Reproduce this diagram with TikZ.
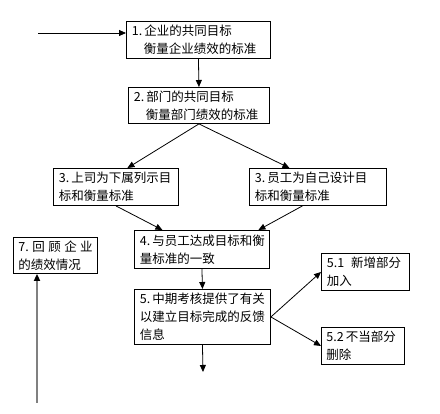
\documentclass[tikz,border=0pt]{standalone}
\usepackage{fontspec}
\setmainfont{Noto Sans CJK SC}
\usetikzlibrary{arrows.meta,calc}
\begin{document}
\begin{tikzpicture}[x=1pt,y=-1pt,
  box/.style={draw,line width=0.9pt,anchor=north west,align=left,inner xsep=5.5pt,inner ysep=0pt,
    font=\fontsize{12.5}{18}\selectfont},
  arr/.style={line width=0.8pt,-{Triangle[length=7pt,width=6pt]}},
  grayarr/.style={line width=2pt,draw=gray,-{Triangle[length=7pt,width=6pt,fill=black,color=black]}}]
\useasboundingbox[fill=white] (0,0) rectangle (440,414);
\node[box,minimum width=144pt,minimum height=37pt,text width=133pt] (b1) at (126,21)
  {\mbox{1.\,企业的共同目标}\\\mbox{\hspace{12pt}衡量企业绩效的标准}};
\node[box,minimum width=141pt,minimum height=36pt,text width=130pt] (b2) at (128,87)
  {\mbox{2.\,部门的共同目标}\\\mbox{\hspace{12pt}衡量部门绩效的标准}};
\node[box,minimum width=125pt,minimum height=37pt,text width=114pt] (b3l) at (53,168)
  {\mbox{3.\,上司为下属列示目}\\\mbox{标和衡量标准}};
\node[box,minimum width=137pt,minimum height=37pt,text width=126pt] (b3r) at (249,168)
  {\mbox{3.\,员工为自己设计目}\\\mbox{标和衡量标准}};
\node[box,minimum width=135pt,minimum height=38pt,text width=124pt,inner xsep=5pt] (b4) at (134,230)
  {\mbox{4.\,与员工达成目标和衡}\\\mbox{量标准的一致}};
\node[box,minimum width=84pt,minimum height=36pt,text width=74pt,inner xsep=5pt] (b7) at (13,237)
  {\mbox{7.\;回\;顾\;企\;业}\\\mbox{的绩效情况}};
\node[box,minimum width=88pt,minimum height=37pt,text width=77pt] (b51) at (321,253)
  {\mbox{5.1\;\;新增部分}\\\mbox{加入}};
\node[box,minimum width=136pt,minimum height=55pt,text width=125pt,inner xsep=5pt] (b5) at (134,289)
  {\mbox{5.\,中期考核提供了有关}\\\mbox{以建立目标完成的反馈}\\\mbox{信息}};
\node[box,minimum width=83pt,minimum height=37pt,text width=73pt,inner xsep=5pt] (b52) at (321,327)
  {\mbox{5.2\,不当部分}\\\mbox{删除}};
\coordinate (in1) at (38,33);
\coordinate (out5) at (203,372);
\coordinate (in7) at (37,403);
\draw[arr] (in1) -- (in1 -| b1.west);
\draw[arr] (b1.south) -- (b2.north);
\draw[arr] (b2.south) -- ([xshift=11.5pt]b3l.north);
\draw[arr] (b2.south) -- ([xshift=-28.5pt]b3r.north);
\draw[arr] (b3l.south) -- ([xshift=-39.5pt]b4.north);
\draw[arr] ([xshift=-15.5pt]b3r.south) -- ([xshift=56.5pt]b4.north);
\draw[arr] (b4.south) -- (b5.north);
\draw[arr] (b5.south) -- (out5);
\draw[arr] (b5.east) -- (b51.west);
\draw[arr] (b5.east) -- (b52.west);
\draw[grayarr] (in7) -- (in7 |- b7.south);
\end{tikzpicture}
\end{document}
